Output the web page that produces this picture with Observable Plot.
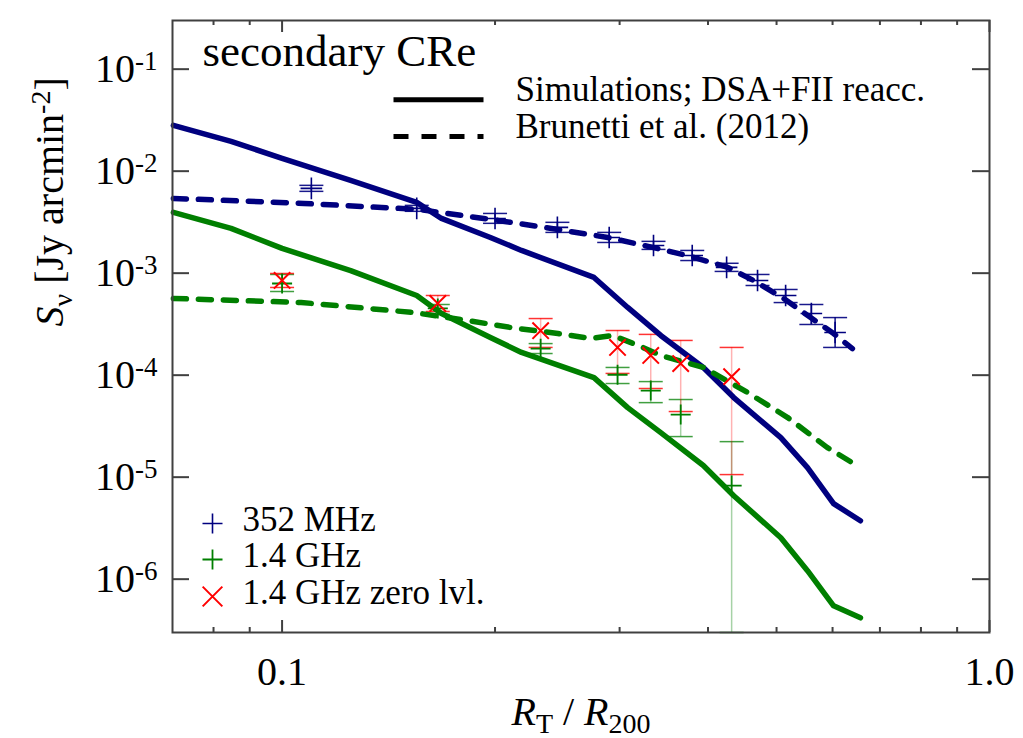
<!DOCTYPE html>
<html><head><meta charset="utf-8">
<script src="https://cdn.jsdelivr.net/npm/d3@7"></script>
<script src="https://cdn.jsdelivr.net/npm/@observablehq/plot@0.6"></script>
<style>html,body{margin:0;padding:0;background:#fff;} #chart svg{display:block;}</style>
</head><body><div id="chart"></div>
<script>
// ---- data ----
const simX   = [0.0702, 0.0847, 0.1, 0.125, 0.155, 0.168, 0.197, 0.218, 0.276, 0.308, 0.343, 0.394, 0.435, 0.507, 0.553, 0.602, 0.657];
const sim352 = [0.0281, 0.0196, 0.01335, 0.00813, 0.00494, 0.00344, 0.00224, 0.00167, 0.000908, 0.000461, 0.000245, 0.000119, 6.03e-5, 2.44e-5, 1.24e-5, 5.5e-6, 3.74e-6];
const sim14  = [0.00394, 0.00275, 0.00175, 0.00106, 0.000604, 0.000402, 0.000234, 0.000167, 9.47e-5, 4.81e-5, 2.73e-5, 1.30e-5, 6.58e-6, 2.55e-6, 1.21e-6, 5.48e-7, 4.18e-7];

const brunX352 = [0.0702, 0.1074, 0.1556, 0.2019, 0.2454, 0.2887, 0.334, 0.378, 0.4266, 0.464, 0.5117, 0.5587, 0.602, 0.640];
const brun352  = [5.41e-3, 4.83e-3, 4.22e-3, 3.29e-3, 2.68e-3, 2.24e-3, 1.79e-3, 1.46e-3, 1.14e-3, 8.48e-4, 5.64e-4, 3.67e-4, 2.56e-4, 1.82e-4];
const brunX14  = [0.0702, 0.1064, 0.1536, 0.1831, 0.2106, 0.2454, 0.2731, 0.2934, 0.3215, 0.343, 0.3945, 0.455, 0.5185, 0.590, 0.6426];
const brun14   = [5.65e-4, 5.16e-4, 4.11e-4, 3.43e-4, 2.93e-4, 2.56e-4, 2.29e-4, 2.45e-4, 1.91e-4, 1.56e-4, 1.19e-4, 6.76e-5, 3.84e-5, 1.95e-5, 1.36e-5];

const obs352X  = [0.11, 0.155, 0.20, 0.245, 0.29, 0.335, 0.38, 0.425, 0.47, 0.515, 0.56, 0.605];
const obs352Y  = [0.00678, 0.00432, 0.00344, 0.00281, 0.00224, 0.00187, 0.00149, 0.00114, 0.000848, 0.000604, 0.000402, 0.000262];
const obs352Lo = [0.00634, 0.00404, 0.00308, 0.00251, 0.00200, 0.00171, 0.00133, 0.00104, 0.000757, 0.000515, 0.000314, 0.000187];
const obs352Hi = [0.00726, 0.00462, 0.00385, 0.00315, 0.00251, 0.00205, 0.00167, 0.00125, 0.000971, 0.000692, 0.000493, 0.000367];

const obs14X   = [0.10, 0.166, 0.232, 0.298, 0.332, 0.366, 0.432];
const obs14Y   = [0.000792, 0.000451, 0.000182, 0.000101, 7.06e-5, 4.11e-5, 8.26e-6];
const obs14Lo  = [0.000661, 0.000394, 0.000163, 8.28e-5, 5.38e-5, 2.50e-5, 3e-7];
const obs14Hi  = [0.000971, 0.000493, 0.000204, 0.000119, 8.65e-5, 5.77e-5, 2.23e-5];
const obs14zY  = [0.000848, 0.000505, 0.000273, 0.000187, 0.000156, 0.000130, 9.68e-5];
const obs14zLo = [0.000724, 0.000421, 0.000187, 0.000104, 7.40e-5, 4.40e-5, 1.06e-5];
const obs14zHi = [0.000993, 0.000604, 0.000359, 0.000274, 0.000251, 0.000219, 0.000187];

const xMajorTicks = [0.1, 1.0];
const xTickLabels = ["0.1", "1.0"];
const xMinorTicks = [0.08, 0.09, 0.2, 0.3, 0.4, 0.5, 0.6, 0.7, 0.8, 0.9];
const yTicks = [1e-1, 1e-2, 1e-3, 1e-4, 1e-5, 1e-6];
const yTickLabels = ["10^-1", "10^-2", "10^-3", "10^-4", "10^-5", "10^-6"];

const panelTitle = "secondary CRe";
const lineLegend = ["Simulations; DSA+FII reacc.", "Brunetti et al. (2012)"];
const pointLegend = ["352 MHz", "1.4 GHz", "1.4 GHz zero lvl."];
const xLabel = "R_T / R_200";
const yLabel = "S_nu [Jy arcmin^-2]";

// ---- tables ----
const simTable = simX.map((x, i) => ({x, a: sim352[i], b: sim14[i]}));
const brun352Table = brunX352.map((x, i) => ({x, y: brun352[i]}));
const brun14Table = brunX14.map((x, i) => ({x, y: brun14[i]}));
const obs352 = obs352X.map((x, i) => ({x, y: obs352Y[i], lo: obs352Lo[i], hi: obs352Hi[i]}));
const obs14 = obs14X.map((x, i) => ({x, y: obs14Y[i], lo: obs14Lo[i], hi: obs14Hi[i]}));
const obs14z = obs14X.map((x, i) => ({x, y: obs14zY[i], lo: obs14zLo[i], hi: obs14zHi[i]}));

// ---- layout & style ----
const W = 1023, H = 738, mL = 172, mR = 34, mT = 20, mB = 106;
const frameW = W - mL - mR, frameH = H - mT - mB;
const navy = "#00007f", green = "#007f00", red = "#ff0000", axisColor = "#404040";
const dash = "13,12";
const lw = 5.5;
const hLine = {draw(ctx, size) { const r = Math.sqrt(size / Math.PI); ctx.moveTo(-r, 0); ctx.lineTo(r, 0); }};

function errorMarks(data, color, stemOpacity, capOpacity) {
  return [
    Plot.ruleX(data, {x: "x", y1: "lo", y2: "hi", stroke: color, strokeOpacity: stemOpacity, strokeWidth: 1.5}),
    Plot.dot(data, {x: "x", y: "lo", symbol: hLine, r: 12, stroke: color, strokeOpacity: capOpacity, strokeWidth: 1.5, fill: "none"}),
    Plot.dot(data, {x: "x", y: "hi", symbol: hLine, r: 12, stroke: color, strokeOpacity: capOpacity, strokeWidth: 1.5, fill: "none"})
  ];
}
const T = (opts) => ({lineAnchor: "middle", ...opts});

const chart = Plot.plot({
  width: W, height: H,
  marginLeft: mL, marginRight: mR, marginTop: mT, marginBottom: mB,
  x: {type: "log", domain: [0.07, 1.0], axis: null},
  y: {type: "log", domain: [3e-7, 0.3], axis: null},
  style: {fontFamily: "'Liberation Serif', 'Times New Roman', serif", fontSize: "40px", background: "#fff", color: "#000"},
  marks: [
    ...errorMarks(obs14, green, 0.35, 0.75),
    ...errorMarks(obs14z, red, 0.3, 0.8),
    ...errorMarks(obs352, navy, 0.9, 0.9),
    Plot.dot(obs352, {x: "x", y: "y", symbol: "plus", r: 7, stroke: navy, strokeWidth: 1.6}),
    Plot.dot(obs14, {x: "x", y: "y", symbol: "plus", r: 6.5, stroke: green, strokeWidth: 1.8}),
    Plot.line(simTable, {x: "x", y: "a", stroke: navy, strokeWidth: lw}),
    Plot.line(simTable, {x: "x", y: "b", stroke: green, strokeWidth: lw}),
    Plot.line(brun352Table, {x: "x", y: "y", stroke: navy, strokeWidth: lw, strokeDasharray: dash}),
    Plot.line(brun14Table, {x: "x", y: "y", stroke: green, strokeWidth: lw, strokeDasharray: dash}),
    Plot.dot(obs14z, {x: "x", y: "y", symbol: "times", r: 7.5, stroke: red, strokeWidth: 2}),

    // ticks (inward)
    Plot.tickX(xMinorTicks, {x: d => d, insetTop: frameH - 5, stroke: axisColor, strokeWidth: 2}),
    Plot.tickX(xMinorTicks, {x: d => d, insetBottom: frameH - 5, stroke: axisColor, strokeWidth: 2}),
    Plot.tickX(xMajorTicks, {x: d => d, insetTop: frameH - 12, stroke: axisColor, strokeWidth: 2}),
    Plot.tickX(xMajorTicks, {x: d => d, insetBottom: frameH - 12, stroke: axisColor, strokeWidth: 2}),
    Plot.tickY(yTicks, {y: d => d, insetRight: frameW - 17, stroke: axisColor, strokeWidth: 2}),
    Plot.tickY(yTicks, {y: d => d, insetLeft: frameW - 17, stroke: axisColor, strokeWidth: 2}),
    Plot.frame({stroke: axisColor, strokeWidth: 2}),

    // tick labels
    Plot.text(yTicks, T({y: d => d, text: yTickLabels, frameAnchor: "left", dx: -15, textAnchor: "end", fontSize: 40})),
    Plot.text(xMajorTicks, T({x: d => d, text: xTickLabels, frameAnchor: "bottom", dy: 40, fontSize: 40})),

    // axis titles
    Plot.text([xLabel], T({text: d => d, frameAnchor: "bottom", dy: 80, fontSize: 40})),
    Plot.text([yLabel], T({text: d => d, frameAnchor: "left", dx: -122, rotate: -90, fontSize: 40})),

    // panel title
    Plot.text([panelTitle], T({text: d => d, frameAnchor: "top-left", dx: 30, dy: 30.6, textAnchor: "start", fontSize: 45})),

    // line legend
    Plot.dot([lineLegend[0]], {frameAnchor: "top-left", dx: 266, dy: 79.3, symbol: hLine, r: 45, stroke: "#000", strokeWidth: 5}),
    Plot.dot([lineLegend[1]], {frameAnchor: "top-left", dx: 266, dy: 116, symbol: hLine, r: 45, stroke: "#000", strokeWidth: 5, strokeDasharray: "15,13"}),
    Plot.text([lineLegend[0]], T({text: d => d, frameAnchor: "top-left", dx: 343, dy: 68.8, textAnchor: "start", fontSize: 35})),
    Plot.text([lineLegend[1]], T({text: d => d, frameAnchor: "top-left", dx: 343, dy: 105.8, textAnchor: "start", fontSize: 35})),

    // point legend
    Plot.dot([pointLegend[0]], {frameAnchor: "top-left", dx: 40, dy: 503, symbol: "plus", r: 6.5, stroke: navy, strokeWidth: 1.6}),
    Plot.dot([pointLegend[1]], {frameAnchor: "top-left", dx: 40, dy: 539, symbol: "plus", r: 6.5, stroke: green, strokeWidth: 1.8}),
    Plot.dot([pointLegend[2]], {frameAnchor: "top-left", dx: 40, dy: 576, symbol: "times", r: 9, stroke: red, strokeWidth: 2}),
    Plot.text([pointLegend[0]], T({text: d => d, frameAnchor: "top-left", dx: 70, dy: 499, textAnchor: "start", fontSize: 35})),
    Plot.text([pointLegend[1]], T({text: d => d, frameAnchor: "top-left", dx: 70, dy: 535, textAnchor: "start", fontSize: 35})),
    Plot.text([pointLegend[2]], T({text: d => d, frameAnchor: "top-left", dx: 70, dy: 572, textAnchor: "start", fontSize: 35}))
  ]
});

document.getElementById("chart").appendChild(chart);

// ---- rich text: superscripts, subscripts, italics ----
function rich(el, parts) {
  const sel = d3.select(el);
  sel.text(null);
  let cur = 0;
  for (const p of parts) {
    const ts = sel.append("tspan").text(p.t);
    const shift = p.shift || 0;
    if (shift !== cur) { ts.attr("dy", (shift - cur) + "px"); cur = shift; }
    if (p.italic) ts.attr("font-style", "italic");
    if (p.size) ts.attr("font-size", p.size + "px");
  }
}
d3.select(chart).selectAll("text").each(function () {
  const s = this.textContent;
  if (yTickLabels.includes(s)) {
    const [base, exp] = s.split("^");
    rich(this, [{t: base}, {t: exp, shift: -12, size: 27}]);
  } else if (s === xLabel) {
    rich(this, [{t: "R", italic: true}, {t: "T", shift: 8, size: 28}, {t: " / ", shift: 0},
                 {t: "R", italic: true}, {t: "200", shift: 8, size: 28}]);
  } else if (s === yLabel) {
    rich(this, [{t: "S", italic: true}, {t: "\u03bd", shift: 9, size: 28}, {t: " [Jy arcmin", shift: 0},
                 {t: "-2", shift: -13, size: 28}, {t: "]", shift: 0}]);
  }
});
</script>
</body></html>
